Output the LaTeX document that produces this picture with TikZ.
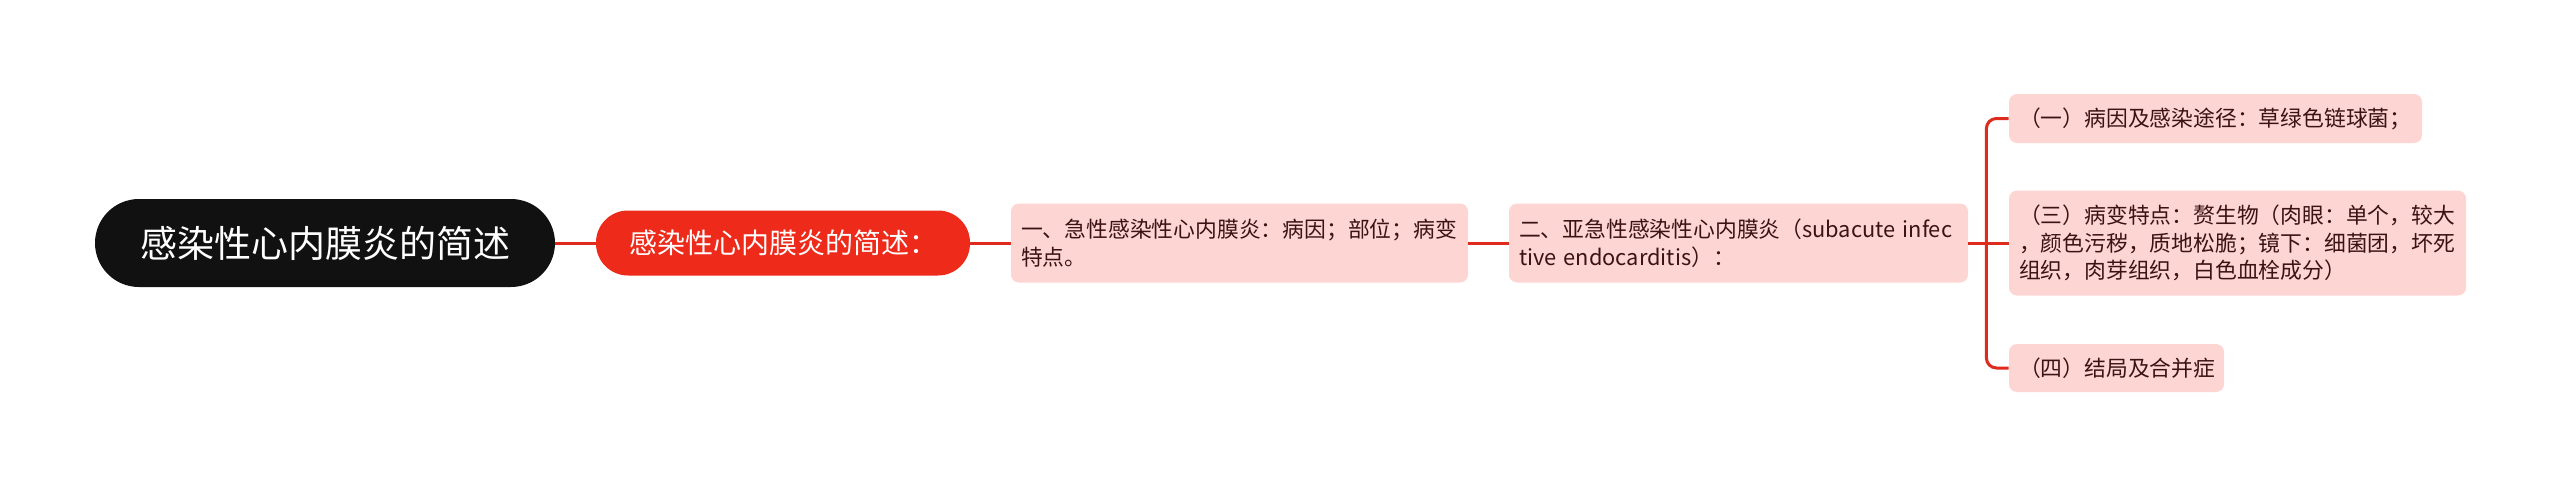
\documentclass[tikz,border=0pt]{standalone}
\usepackage{fontspec}
\setmainfont{Noto Sans CJK SC}
\definecolor{rootc}{HTML}{111111}
\definecolor{redc}{HTML}{EE2A1A}
\definecolor{linec}{HTML}{DF2A1E}
\definecolor{pinkc}{HTML}{FDD5D2}
\definecolor{txtc}{HTML}{3A1414}
\begin{document}
\begin{tikzpicture}[x=0.5pt,y=-0.5pt,
  rootbox/.style={fill=rootc, text=white, rounded corners=22pt, minimum width=230pt, minimum height=44pt, inner sep=0pt, font=\fontsize{18.5}{22}\selectfont},
  redbox/.style={fill=redc, text=white, rounded corners=16pt, minimum width=187pt, minimum height=32.5pt, inner sep=0pt, font=\fontsize{14}{17}\selectfont},
  pinkbox/.style={fill=pinkc, text=txtc, rounded corners=4pt, inner xsep=5pt, inner ysep=0pt, align=left, font=\fontsize{10.9}{13.75}\selectfont},
  conn/.style={draw=linec, line width=1.5pt}]
\useasboundingbox (0,0) rectangle (2560,487);
\node[rootbox] (root) at (325,243) {感染性心内膜炎的简述};
\node[redbox] (red) at (783,243) {感染性心内膜炎的简述：};
\node[pinkbox, text width=218.5pt, minimum height=39.5pt] (n1) at (1239.5,243) {一、急性感染性心内膜炎：病因；部位；病变\\特点。};
\node[pinkbox, text width=219.5pt, minimum height=39.5pt] (n2) at (1738.5,243) {二、亚急性感染性心内膜炎（subacute~infec\\tive endocarditis）：};
\node[pinkbox, text width=196.5pt, minimum height=24.5pt] (c1) at (2215.5,118.5) {（一）病因及感染途径：草绿色链球菌；};
\node[pinkbox, text width=218.5pt, minimum height=52.5pt] (c2) at (2237.5,243) {（三）病变特点：赘生物（肉眼：单个，较大\\，颜色污秽，质地松脆；镜下：细菌团，坏死\\组织，肉芽组织，白色血栓成分）};
\node[pinkbox, text width=97.5pt, minimum height=24pt] (c3) at (2116.5,368) {（四）结局及合并症};
\draw[conn] (root.east) -- (red.west);
\draw[conn] (red.east) -- (n1.west);
\draw[conn] (n1.east) -- (n2.west);
\draw[conn] (n2.east) -- (c2.west);
\coordinate (br) at ([xshift=9pt]n2.east);
\draw[conn, rounded corners=5pt] (br) |- (c1.west);
\draw[conn, rounded corners=5pt] (br) |- (c3.west);
\end{tikzpicture}
\end{document}
